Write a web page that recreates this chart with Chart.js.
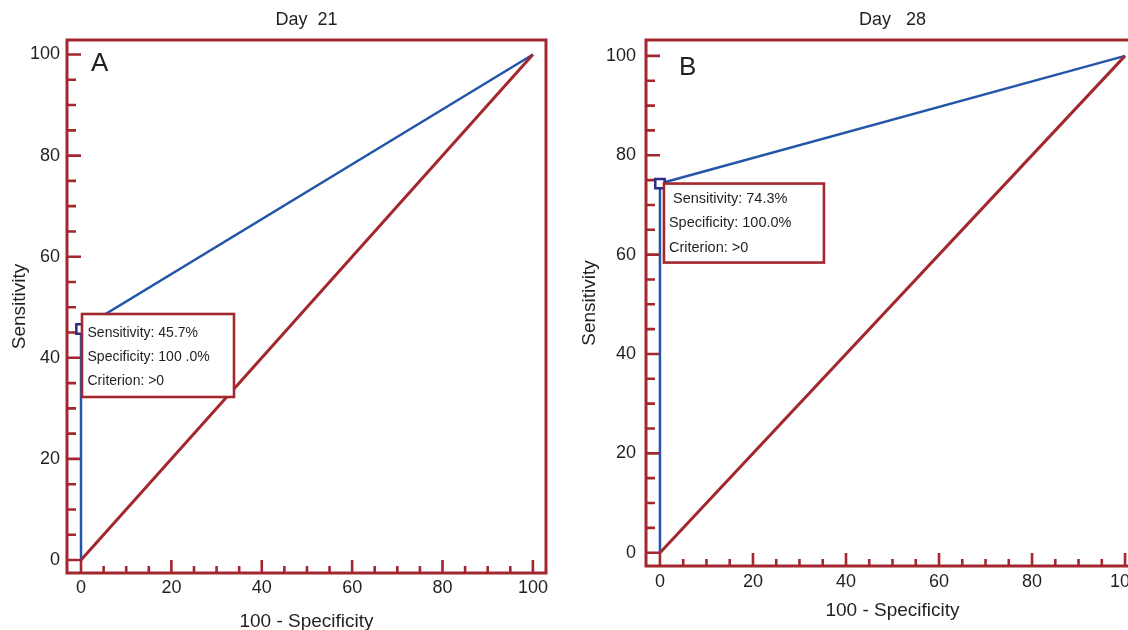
<!DOCTYPE html>
<html>
<head>
<meta charset="utf-8">
<script src="https://cdn.jsdelivr.net/npm/chart.js@4"></script>
<style>
  html, body { margin: 0; padding: 0; background: #fff; }
  body { width: 1128px; height: 630px; overflow: hidden; position: relative; }
  canvas { position: absolute; top: 0; }
  #chartA { left: 0; }
  #chartB { left: 560px; }
</style>
</head>
<body>
<canvas id="chartA" width="560" height="650"></canvas>
<canvas id="chartB" width="600" height="650"></canvas>
<script>
// ROC data (x = 100 - specificity, y = sensitivity)
const fprA = [0, 0, 100];
const sensA = [0, 45.7, 100];
const cutoffA = [0, 45.7];
const fprB = [0, 0, 100];
const sensB = [0, 74.3, 100];
const cutoffB = [0, 74.3];
const refX = [0, 100];
const refY = [0, 100];
const xTickValues = [0, 20, 40, 60, 80, 100];
const yTickValues = [0, 20, 40, 60, 80, 100];
const boxTextA = ['Sensitivity: 45.7%', 'Specificity: 100 .0%', 'Criterion: >0'];
const boxTextB = [' Sensitivity: 74.3%', 'Specificity: 100.0%', 'Criterion: >0'];

const RED = '#a3272f';
const BLUE = '#2356a8';
const NAVY = '#2b2b85';
const INK = '#231f20';
const FONT = '"Liberation Sans", Arial, sans-serif';

function toPoints(xs, ys) {
    return xs.map((v, i) => ({x: v, y: ys[i]}));
}

// frame, inward ticks, panel letter and the criterion box
const panelDecor = {
    id: 'panelDecor',
    beforeDatasetsDraw(chart, args, opts) {
        const {ctx, chartArea: a, scales: {x, y}} = chart;
        ctx.save();
        ctx.strokeStyle = RED;
        ctx.lineWidth = 2.6;
        ctx.beginPath();
        for (let v = 0; v <= 100; v += 5) {
            const major = v % 20 === 0;
            const py = y.getPixelForValue(v);
            ctx.moveTo(a.left, py);
            ctx.lineTo(a.left + (major ? 14 : 9), py);
            const px = x.getPixelForValue(v);
            ctx.moveTo(px, a.bottom);
            ctx.lineTo(px, a.bottom - (major ? 13 : 7));
        }
        ctx.stroke();
        ctx.lineWidth = 3;
        ctx.strokeRect(a.left, a.top, a.right - a.left, a.bottom - a.top);
        ctx.restore();
    },
    afterDatasetsDraw(chart, args, opts) {
        const {ctx, chartArea: a, scales: {x, y}} = chart;
        ctx.save();
        // panel letter
        ctx.fillStyle = INK;
        ctx.font = '26px ' + FONT;
        ctx.textBaseline = 'alphabetic';
        ctx.fillText(opts.letter, a.left + opts.letterDx, a.top + opts.letterDy);

        // criterion box, anchored on the cut-off point
        const bx = x.getPixelForValue(opts.cutoff[0]) + opts.boxDx;
        const by = y.getPixelForValue(opts.cutoff[1]) + opts.boxDy;
        ctx.fillStyle = '#fff';
        ctx.fillRect(bx, by, opts.boxW, opts.boxH);
        ctx.strokeStyle = RED;
        ctx.lineWidth = 2.6;
        ctx.strokeRect(bx, by, opts.boxW, opts.boxH);
        ctx.fillStyle = INK;
        ctx.font = opts.textSize + 'px ' + FONT;
        opts.lines.forEach((t, i) => {
            ctx.fillText(t, bx + opts.textDx, by + opts.textDy + i * opts.lineGap);
        });
        ctx.restore();
    }
};

function makePanel(id, p) {
    const ctx = document.getElementById(id).getContext('2d');
    return new Chart(ctx, {
        type: 'scatter',
        data: {
            datasets: [
                {
                    label: 'Cut-off',
                    data: toPoints([p.cutoff[0]], [p.cutoff[1]]),
                    pointStyle: 'rect',
                    pointRadius: 6.6,
                    pointBorderWidth: 2.5,
                    pointBorderColor: NAVY,
                    pointBackgroundColor: '#fff',
                    order: 0
                },
                {
                    label: 'Reference',
                    data: toPoints(refX, refY),
                    showLine: true,
                    borderColor: RED,
                    borderWidth: 3,
                    pointRadius: 0,
                    order: 1
                },
                {
                    label: 'ROC',
                    data: toPoints(p.fpr, p.sens),
                    showLine: true,
                    borderColor: BLUE,
                    borderWidth: 2.5,
                    pointRadius: 0,
                    order: 2
                }
            ]
        },
        options: {
            responsive: false,
            animation: false,
            layout: { padding: { left: 0, right: p.padRight, top: 0, bottom: 0 } },
            scales: {
                x: {
                    type: 'linear',
                    min: p.xMin,
                    max: p.xMax,
                    grid: { display: false, drawTicks: false },
                    border: { display: false },
                    afterBuildTicks: s => { s.ticks = xTickValues.map(v => ({value: v})); },
                    afterFit: s => { s.height = p.xHeight; },
                    ticks: {
                        autoSkip: false,
                        maxRotation: 0,
                        padding: p.xTickPad,
                        color: INK,
                        font: { family: FONT, size: 18 }
                    },
                    title: {
                        display: true,
                        text: '100 - Specificity',
                        color: INK,
                        font: { family: FONT, size: 19 },
                        padding: { top: 0, bottom: p.xTitlePad }
                    }
                },
                y: {
                    type: 'linear',
                    min: p.yMin,
                    max: p.yMax,
                    grid: { display: false, drawTicks: false },
                    border: { display: false },
                    afterBuildTicks: s => { s.ticks = yTickValues.map(v => ({value: v})); },
                    afterFit: s => { s.width = p.yWidth; },
                    ticks: {
                        autoSkip: false,
                        padding: p.yTickPad,
                        color: INK,
                        font: { family: FONT, size: 18 }
                    },
                    title: {
                        display: true,
                        text: 'Sensitivity',
                        color: INK,
                        font: { family: FONT, size: 19 },
                        padding: { top: p.yTitlePad, bottom: 0 }
                    }
                }
            },
            plugins: {
                legend: { display: false },
                tooltip: { enabled: false },
                title: {
                    display: true,
                    text: p.title,
                    fullSize: false,
                    color: INK,
                    font: { family: FONT, size: 18, weight: 'normal' },
                    padding: { top: 9, bottom: 9.4 }
                },
                panelDecor: p.decor
            }
        },
        plugins: [panelDecor]
    });
}

makePanel('chartA', {
    title: 'Day  21',
    fpr: fprA, sens: sensA, cutoff: cutoffA,
    xMin: -3.1, xMax: 102.9, yMin: -2.57, yMax: 102.87,
    padRight: 14, yWidth: 67, xHeight: 77,
    xTickPad: 4, yTickPad: 7, xTitlePad: 17, yTitlePad: 8,
    decor: {
        letter: 'A', letterDx: 24, letterDy: 31,
        cutoff: cutoffA, boxDx: 1, boxDy: -15, boxW: 152, boxH: 83,
        lines: boxTextA, textSize: 14, textDx: 5.5, textDy: 22.7, lineGap: 24.3
    }
});

makePanel('chartB', {
    title: 'Day   28',
    fpr: fprB, sens: sensB, cutoff: cutoffB,
    xMin: -3.0, xMax: 103.0, yMin: -2.68, yMax: 103.2,
    padRight: 21, yWidth: 86, xHeight: 84,
    xTickPad: 5, yTickPad: 10, xTitlePad: 28, yTitlePad: 18,
    decor: {
        letter: 'B', letterDx: 33, letterDy: 35,
        cutoff: cutoffB, boxDx: 4, boxDy: 0, boxW: 160, boxH: 79,
        lines: boxTextB, textSize: 14.5, textDx: 5, textDy: 19.3, lineGap: 24.5
    }
});
</script>
</body>
</html>
